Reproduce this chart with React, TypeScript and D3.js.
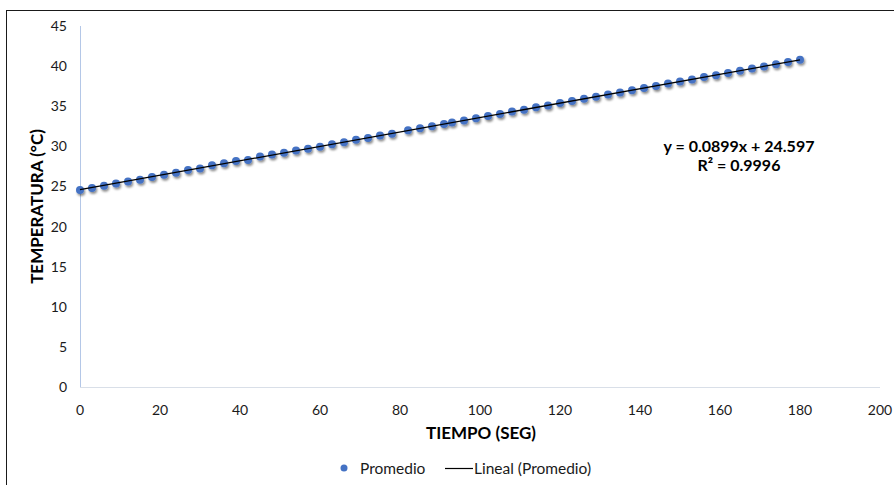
import React, { useEffect, useRef } from "react";
import * as d3 from "d3";

const times: number[] = [
  0, 3, 6, 9, 12, 15, 18, 21, 24, 27, 30, 33, 36, 39, 42, 45, 48, 51, 54, 57,
  60, 63, 66, 69, 72, 75, 78, 82, 85, 88, 91, 93, 96, 99, 102, 105, 108, 111,
  114, 117, 120, 123, 126, 129, 132, 135, 138, 141, 144, 147, 150, 153, 156,
  159, 162, 165, 168, 171, 174, 177, 180,
];
const promedio: number[] = [
  24.55, 24.82, 25.1, 25.38, 25.63, 25.84, 26.18, 26.47, 26.72, 27.05, 27.25,
  27.63, 27.88, 28.18, 28.3, 28.72, 28.97, 29.21, 29.47, 29.71, 29.96, 30.25,
  30.5, 30.82, 31.04, 31.36, 31.58, 32.0, 32.24, 32.5, 32.77, 32.98, 33.22,
  33.5, 33.79, 34.02, 34.33, 34.57, 34.86, 35.1, 35.4, 35.64, 35.93, 36.18,
  36.47, 36.71, 37.0, 37.28, 37.52, 37.82, 38.07, 38.34, 38.63, 38.87, 39.15,
  39.42, 39.7, 39.96, 40.22, 40.5, 40.8,
];
const slope = 0.0899;
const intercept = 24.597;
const xTicks: number[] = [0, 20, 40, 60, 80, 100, 120, 140, 160, 180, 200];
const yTicks: number[] = [0, 5, 10, 15, 20, 25, 30, 35, 40, 45];
const xTitle = "TIEMPO (SEG)";
const yTitle = "TEMPERATURA (°C)";
const eqLine1 = "y = 0.0899x + 24.597";
const eqLine2 = "R² = 0.9996";
const legendLabels = ["Promedio", "Lineal (Promedio)"];

const FONT = "Lato, 'Open Sans', sans-serif";

export default function App() {
  const ref = useRef<SVGSVGElement | null>(null);

  useEffect(() => {
    const svg = d3.select(ref.current);
    svg.selectAll("*").remove();

    const x = d3.scaleLinear().domain([0, 200]).range([80, 880]);
    const y = d3.scaleLinear().domain([0, 45]).range([387, 26]);

    const defs = svg.append("defs");
    const f = defs
      .append("filter")
      .attr("id", "sh")
      .attr("x", "-50%")
      .attr("y", "-50%")
      .attr("width", "200%")
      .attr("height", "200%");
    f.append("feDropShadow")
      .attr("dx", 1.2)
      .attr("dy", 2)
      .attr("stdDeviation", 1.2)
      .attr("flood-color", "#000")
      .attr("flood-opacity", 0.45);

    svg
      .append("rect")
      .attr("x", 6.5)
      .attr("y", 10.5)
      .attr("width", 950)
      .attr("height", 550)
      .attr("fill", "#fff")
      .attr("stroke", "#1a1a1a")
      .attr("stroke-width", 1);

    svg
      .append("line")
      .attr("x1", x(0))
      .attr("x2", x(200))
      .attr("y1", y(0) + 0.5)
      .attr("y2", y(0) + 0.5)
      .attr("stroke", "#d9dfe8")
      .attr("stroke-width", 1);
    svg
      .append("line")
      .attr("x1", x(0) + 0.5)
      .attr("x2", x(0) + 0.5)
      .attr("y1", y(0))
      .attr("y2", y(45))
      .attr("stroke", "#b4c7e7")
      .attr("stroke-width", 1);

    svg
      .append("g")
      .selectAll("text")
      .data(xTicks)
      .join("text")
      .attr("x", (d) => x(d))
      .attr("y", 415)
      .attr("text-anchor", "middle")
      .attr("font-family", FONT)
      .attr("font-size", 14)
      .attr("fill", "#1a1a1a")
      .text((d) => String(d));
    svg
      .append("g")
      .selectAll("text")
      .data(yTicks)
      .join("text")
      .attr("x", 67)
      .attr("y", (d) => y(d) + 5)
      .attr("text-anchor", "end")
      .attr("font-family", FONT)
      .attr("font-size", 14)
      .attr("fill", "#1a1a1a")
      .text((d) => String(d));

    svg
      .append("text")
      .attr("x", 481)
      .attr("y", 439)
      .attr("text-anchor", "middle")
      .attr("font-family", FONT)
      .attr("font-weight", "bold")
      .attr("font-size", 17)
      .attr("fill", "#000")
      .text(xTitle);
    svg
      .append("text")
      .attr("transform", `translate(43,${(y(0) + y(45)) / 2}) rotate(-90)`)
      .attr("text-anchor", "middle")
      .attr("font-family", FONT)
      .attr("font-weight", "bold")
      .attr("font-size", 17)
      .attr("fill", "#000")
      .text(yTitle);

    const line = d3
      .line<number>()
      .x((t) => x(t))
      .y((t) => y(intercept + slope * t));

    svg
      .append("g")
      .attr("filter", "url(#sh)")
      .selectAll("circle")
      .data(times.map((t, i) => [t, promedio[i]]))
      .join("circle")
      .attr("cx", (d) => x(d[0]))
      .attr("cy", (d) => y(d[1]))
      .attr("r", 4)
      .attr("fill", "#4472c4");

    svg
      .append("path")
      .datum([times[0], times[times.length - 1]])
      .attr("d", line)
      .attr("stroke", "#000")
      .attr("stroke-width", 1.3)
      .attr("fill", "none");

    const eq = svg
      .append("g")
      .attr("font-family", FONT)
      .attr("font-weight", "bold")
      .attr("font-size", 16)
      .attr("fill", "#000")
      .attr("text-anchor", "middle");
    eq.append("text").attr("x", 739).attr("y", 152).text(eqLine1);
    eq.append("text").attr("x", 739).attr("y", 171).text(eqLine2);

    const lg = svg.append("g").attr("font-family", FONT).attr("font-size", 15.5).attr("fill", "#1a1a1a");
    lg.append("circle").attr("cx", 344).attr("cy", 468).attr("r", 3.5).attr("fill", "#4472c4");
    lg.append("text").attr("x", 360).attr("y", 473.5).text(legendLabels[0]);
    lg.append("line")
      .attr("x1", 445)
      .attr("x2", 473)
      .attr("y1", 468.5)
      .attr("y2", 468.5)
      .attr("stroke", "#000")
      .attr("stroke-width", 1.2);
    lg.append("text").attr("x", 474).attr("y", 473.5).text(legendLabels[1]);
  }, []);

  return (
    <svg
      ref={ref}
      width={894}
      height={485}
      style={{ position: "absolute", left: 0, top: 0, background: "#fff" }}
    />
  );
}
